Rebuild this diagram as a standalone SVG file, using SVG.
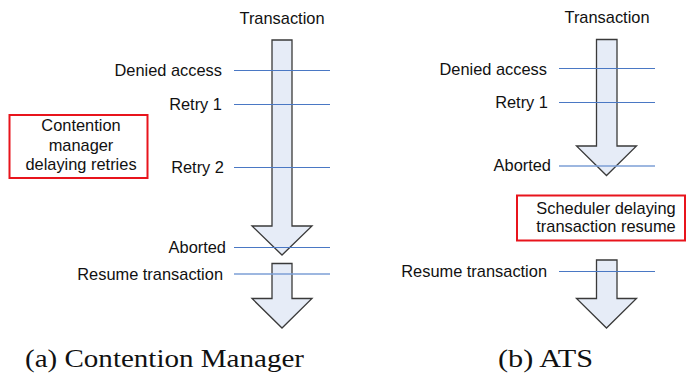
<svg xmlns="http://www.w3.org/2000/svg" width="686" height="375" viewBox="0 0 686 375">
  <style>
    .lbl { font-family: "Liberation Sans", Arial, sans-serif; font-size: 16.4px; fill: #111; }
    .end { text-anchor: end; }
    .mid { text-anchor: middle; }
    .cap { font-family: "Liberation Serif", "Times New Roman", serif; font-size: 25.5px; fill: #111; }
    .arrow { fill: #e6ecf7; stroke: #3a3a3a; stroke-width: 1.3; stroke-linejoin: miter; }
    .mark { stroke: #4a78c4; stroke-width: 1; fill: none; }
    .mark.soft { stroke: #7d9fd6; stroke-width: 1.6; }
    .box { fill: #fff; stroke: #e8141c; stroke-width: 2; }
  </style>

  <rect width="686" height="375" fill="#fff"/>

  <!-- (a) contention manager timeline -->
  <g id="cm-transaction-arrow">
    <path class="arrow" d="M272,40 H292 V226 H312 L282,255 L252,226 H272 Z"/>
  </g>
  <g id="cm-resume-arrow">
    <path class="arrow" d="M272,263.5 H292 V298.5 H312 L282,328 L252,298.5 H272 Z"/>
  </g>
  <g id="cm-manager-box">
    <rect class="box" x="9.5" y="115" width="138" height="63"/>
    <text class="lbl mid" x="81" y="131">Contention</text>
    <text class="lbl mid" x="81" y="151">manager</text>
    <text class="lbl mid" x="81" y="170">delaying retries</text>
  </g>
  <g id="cm-labels">
    <text class="lbl mid" x="282" y="24">Transaction</text>
    <text class="lbl end" x="222" y="76">Denied access</text>
    <text class="lbl end" x="222" y="109.5">Retry 1</text>
    <text class="lbl end" x="224" y="172.5">Retry 2</text>
    <text class="lbl end" x="226" y="252.5">Aborted</text>
    <text class="lbl end" x="223" y="279.5">Resume transaction</text>
  </g>

  <!-- (b) ATS timeline -->
  <g id="ats-transaction-arrow">
    <path class="arrow" d="M596.5,39.5 H617 V146 H636.5 L606.5,175.5 L576.5,146 H596.5 Z"/>
  </g>
  <g id="ats-resume-arrow">
    <path class="arrow" d="M596.5,260 H617 V298.5 H636.5 L606.5,328 L576.5,298.5 H596.5 Z"/>
  </g>
  <g id="ats-scheduler-box">
    <rect class="box" x="517" y="195.5" width="168" height="45"/>
    <text class="lbl mid" x="606" y="214.3">Scheduler delaying</text>
    <text class="lbl mid" x="606" y="231.8">transaction resume</text>
  </g>
  <g id="ats-labels">
    <text class="lbl mid" x="607" y="23.3">Transaction</text>
    <text class="lbl end" x="547" y="75">Denied access</text>
    <text class="lbl end" x="548" y="107.5">Retry 1</text>
    <text class="lbl end" x="551" y="171">Aborted</text>
    <text class="lbl end" x="547" y="276.5">Resume transaction</text>
  </g>

  <!-- event markers crossing the timelines -->
  <g id="connectors">
    <line class="mark" x1="234" y1="70.5" x2="330" y2="70.5"/>
    <line class="mark" x1="234" y1="104.5" x2="330" y2="104.5"/>
    <line class="mark" x1="234" y1="167.5" x2="330" y2="167.5"/>
    <line class="mark" x1="234" y1="247.5" x2="330" y2="247.5"/>
    <line class="mark soft" x1="234" y1="274" x2="330" y2="274"/>

    <line class="mark" x1="559" y1="68.5" x2="655" y2="68.5"/>
    <line class="mark" x1="559" y1="102.5" x2="655" y2="102.5"/>
    <line class="mark soft" x1="559" y1="166" x2="655" y2="166"/>
    <line class="mark" x1="559" y1="271.5" x2="655" y2="271.5"/>
  </g>

  <!-- sub-figure captions -->
  <g id="captions">
    <text class="cap" x="25" y="367" textLength="279" lengthAdjust="spacingAndGlyphs">(a) Contention Manager</text>
    <text class="cap" x="498" y="367" textLength="95" lengthAdjust="spacingAndGlyphs">(b) ATS</text>
  </g>
</svg>
